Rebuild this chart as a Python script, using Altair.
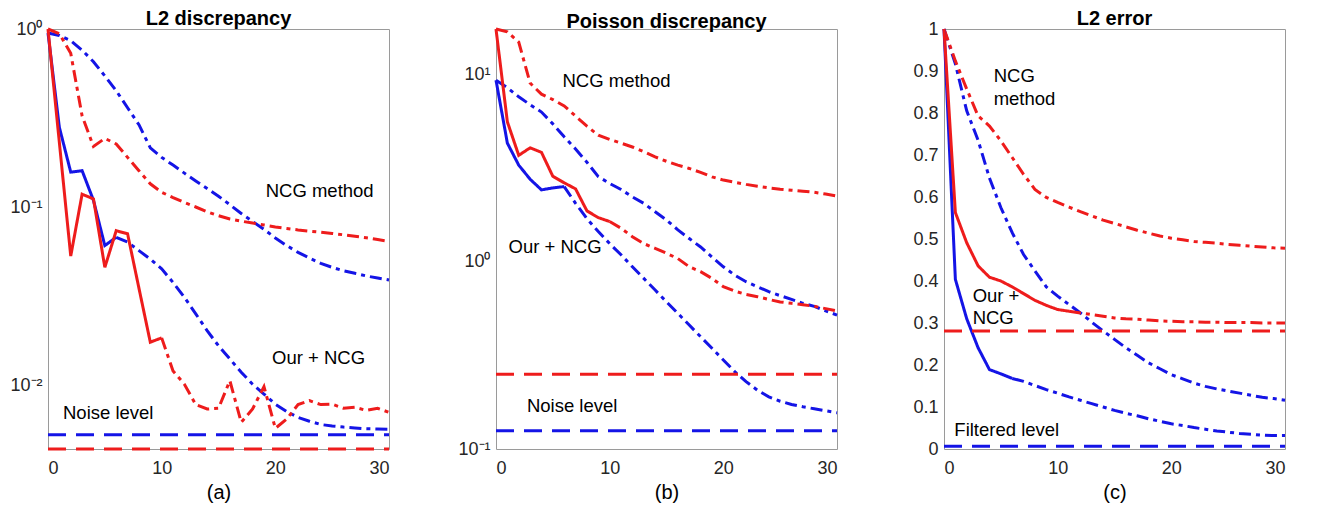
import altair as alt
import pandas as pd

FONT = "Liberation Sans"
RED = "#ee1c1c"
BLUE = "#1414e6"

# ---------------- data ----------------
iters = list(range(31))

# (a) L2 discrepancy
a_red_our = [1.0, 0.23, 0.053, 0.118, 0.111, 0.0458, 0.0736, 0.0707, 0.035, 0.0174, 0.0184,
             0.0120, 0.0101, 0.00776, 0.00733, 0.0074, 0.01057, 0.00617, 0.00733, 0.0098, 0.00571,
             0.00644, 0.00776, 0.00817, 0.00776, 0.0078, 0.0074, 0.0075, 0.0072, 0.0074, 0.00702]
a_blue_our = [0.95, 0.28, 0.157, 0.16, 0.109, 0.0607, 0.0676, 0.0635, 0.0569, 0.051, 0.0449,
              0.0377, 0.0311, 0.0251, 0.0202, 0.0166, 0.014, 0.0118, 0.0101, 0.0089, 0.0078,
              0.0071, 0.00658, 0.00626, 0.006, 0.00588, 0.0058, 0.00574, 0.00568, 0.00566, 0.00564]
a_red_ncg = [1.0, 0.94, 0.73, 0.325, 0.219, 0.243, 0.226, 0.19, 0.16, 0.135, 0.121,
             0.113, 0.106, 0.1, 0.094, 0.0894, 0.0857, 0.0833, 0.0812, 0.0793, 0.0773,
             0.0758, 0.0743, 0.0732, 0.0722, 0.071, 0.0698, 0.0685, 0.0672, 0.0656, 0.0641]
a_blue_ncg = [0.95, 0.92, 0.86, 0.76, 0.655, 0.545, 0.45, 0.361, 0.29, 0.215, 0.19,
              0.172, 0.155, 0.14, 0.127, 0.115, 0.103, 0.092, 0.083, 0.075, 0.067,
              0.0607, 0.0556, 0.0517, 0.0482, 0.0458, 0.0438, 0.0424, 0.041, 0.0399, 0.0389]
a_noise = [0.00437, 0.00526]  # red, blue
a_switch = [10, 6]            # red, blue: iteration where "Our" hands over to NCG

# (b) Poisson discrepancy
b_red_our = [17.5, 5.59, 3.7, 4.06, 3.84, 2.86, 2.64, 2.45, 1.87, 1.72, 1.64,
             1.51, 1.36, 1.25, 1.18, 1.11, 1.04, 0.94, 0.885, 0.815, 0.736,
             0.697, 0.669, 0.651, 0.629, 0.61, 0.6, 0.59, 0.578, 0.562, 0.546]
b_blue_our = [9.33, 4.3, 3.28, 2.76, 2.42, 2.48, 2.52, 2.05, 1.70, 1.45, 1.25,
              1.09, 0.94, 0.815, 0.706, 0.611, 0.53, 0.459, 0.398, 0.345, 0.299,
              0.259, 0.229, 0.206, 0.19, 0.18, 0.173, 0.168, 0.164, 0.16, 0.156]
b_red_ncg = [17.5, 16.9, 14.9, 9.0, 7.85, 7.35, 6.8, 6.0, 5.3, 4.74, 4.5,
             4.3, 4.1, 3.87, 3.63, 3.44, 3.28, 3.15, 3.0, 2.84, 2.73,
             2.66, 2.59, 2.53, 2.48, 2.44, 2.41, 2.38, 2.35, 2.3, 2.24]
b_blue_ncg = [9.33, 8.5, 7.6, 6.9, 6.3, 5.45, 4.65, 4.0, 3.4, 2.85, 2.62,
              2.43, 2.22, 2.05, 1.85, 1.67, 1.48, 1.33, 1.2, 1.06, 0.94,
              0.849, 0.782, 0.736, 0.692, 0.659, 0.63, 0.6, 0.578, 0.547, 0.519]
b_noise = [0.251, 0.125]
b_switch = [10, 6]

# (c) L2 error
c_red_our = [1.0, 0.563, 0.491, 0.436, 0.409, 0.4, 0.386, 0.37, 0.354, 0.342, 0.332,
             0.328, 0.324, 0.32, 0.316, 0.312, 0.31, 0.309, 0.307, 0.305, 0.304,
             0.303, 0.303, 0.302, 0.302, 0.301, 0.301, 0.301, 0.3, 0.3, 0.3]
c_blue_our = [1.0, 0.404, 0.31, 0.241, 0.189, 0.179, 0.168, 0.161, 0.151, 0.1415, 0.133,
              0.124, 0.116, 0.108, 0.1, 0.092, 0.085, 0.079, 0.072, 0.066, 0.06,
              0.056, 0.051, 0.047, 0.043, 0.04, 0.037, 0.035, 0.033, 0.032, 0.032]
c_red_ncg = [1.0, 0.924, 0.857, 0.793, 0.769, 0.734, 0.694, 0.654, 0.618, 0.599, 0.587,
             0.576, 0.565, 0.555, 0.545, 0.537, 0.529, 0.521, 0.514, 0.507, 0.502,
             0.498, 0.494, 0.492, 0.49, 0.487, 0.485, 0.483, 0.481, 0.479, 0.478]
c_blue_ncg = [1.0, 0.917, 0.805, 0.735, 0.645, 0.575, 0.515, 0.463, 0.424, 0.386, 0.364,
              0.344, 0.324, 0.302, 0.281, 0.261, 0.241, 0.223, 0.205, 0.191, 0.177,
              0.167, 0.157, 0.149, 0.143, 0.138, 0.133, 0.128, 0.123, 0.12, 0.116]
c_noise = [0.281, 0.0065]
c_switch = [11, 6]

# annotations: (text, x, y, align)
a_notes = [("NCG method", 23.9, 0.123, "center"), ("Our + NCG", 23.8, 0.0142, "center"),
           ("Noise level", 5.3, 0.0070, "center")]
b_notes = [("NCG method", 10.6, 9.25, "center"), ("Our + NCG", 5.2, 1.2, "center"),
           ("Noise level", 6.7, 0.169, "center")]
c_notes = [("NCG", 4.37, 0.888, "left"), ("method", 4.37, 0.834, "left"),
           ("Our +", 2.52, 0.365, "left"), ("NCG", 2.52, 0.313, "left"),
           ("Filtered level", 0.91, 0.046, "left")]

SOLID = [1, 0]
DASHDOT = [12, 5, 4, 5]
DASHED = [18, 10]


def seg(xs, ys):
    return pd.DataFrame({"x": xs, "y": ys})


def panel(title, sub, red_our, blue_our, red_ncg, blue_ncg, noise, switch, notes,
          yscale, yaxis):
    xenc = alt.X("x:Q", scale=alt.Scale(domain=[0, 30], nice=False),
                 axis=alt.Axis(values=[0, 10, 20, 30], title=sub, format="d"))
    layers = []

    def line(df, color, dash):
        return alt.Chart(df).mark_line(color=color, strokeDash=dash, strokeWidth=3).encode(
            x=xenc, y=alt.Y("y:Q", scale=yscale, axis=yaxis))

    layers.append(line(seg(iters, blue_ncg), BLUE, DASHDOT))
    layers.append(line(seg(iters, red_ncg), RED, DASHDOT))
    kb = switch[1]
    layers.append(line(seg(iters[:kb + 1], blue_our[:kb + 1]), BLUE, SOLID))
    layers.append(line(seg(iters[kb:], blue_our[kb:]), BLUE, DASHDOT))
    kr = switch[0]
    layers.append(line(seg(iters[:kr + 1], red_our[:kr + 1]), RED, SOLID))
    layers.append(line(seg(iters[kr:], red_our[kr:]), RED, DASHDOT))
    layers.append(line(seg([0, 30], [noise[0], noise[0]]), RED, DASHED))
    layers.append(line(seg([0, 30], [noise[1], noise[1]]), BLUE, DASHED))

    for align in ["left", "center"]:
        rows = [n for n in notes if n[3] == align]
        if not rows:
            continue
        nd = pd.DataFrame({"t": [r[0] for r in rows], "x": [r[1] for r in rows],
                           "y": [r[2] for r in rows]})
        layers.append(alt.Chart(nd).mark_text(font=FONT, fontSize=18.5, color="black",
                                              align=align, baseline="middle").encode(
            x=xenc, y=alt.Y("y:Q", scale=yscale, axis=yaxis), text="t:N"))

    return alt.layer(*layers).properties(
        width=341, height=420,
        title=alt.TitleParams(title, font=FONT, fontSize=20, fontWeight="bold",
                              color="black", offset=-9))


a_axis = alt.Axis(values=[0.01, 0.1, 1], title=None,
                  labelExpr="datum.value >= 0.5 ? '10⁰' : (datum.value >= 0.05 ? '10⁻¹' : '10⁻²')")
b_axis = alt.Axis(values=[0.1, 1, 10], title=None,
                  labelExpr="datum.value >= 5 ? '10¹' : (datum.value >= 0.5 ? '10⁰' : '10⁻¹')")
c_axis = alt.Axis(values=[0, 0.1, 0.2, 0.3, 0.4, 0.5, 0.6, 0.7, 0.8, 0.9, 1], title=None,
                  format=".1~f")

pa = panel("L2 discrepancy", "(a)", a_red_our, a_blue_our, a_red_ncg, a_blue_ncg, a_noise,
           a_switch, a_notes, alt.Scale(type="log", domain=[0.00437, 1], nice=False), a_axis)
pb = panel("Poisson discrepancy", "(b)", b_red_our, b_blue_our, b_red_ncg, b_blue_ncg, b_noise,
           b_switch, b_notes, alt.Scale(type="log", domain=[0.1, 17.5], nice=False), b_axis)
pc = panel("L2 error", "(c)", c_red_our, c_blue_our, c_red_ncg, c_blue_ncg, c_noise,
           c_switch, c_notes, alt.Scale(domain=[0, 1], nice=False), c_axis)

chart = alt.hconcat(pa, pb, pc, spacing=107, bounds="flush").properties(
    padding={"left": 1, "top": 0, "right": 5, "bottom": 0}
).configure_axis(
    labelFont=FONT, labelFontSize=18, labelColor="#262626", labelPadding=6,
    domain=False, ticks=False, grid=False,
    titleFont=FONT, titleFontSize=20, titleFontWeight="normal", titleColor="black",
    titlePadding=5
).configure_axisX(labelPadding=10).configure_view(stroke="#9a9a9a", strokeWidth=1)

chart.save("out.html", embed_options={"renderer": "svg", "actions": False})
